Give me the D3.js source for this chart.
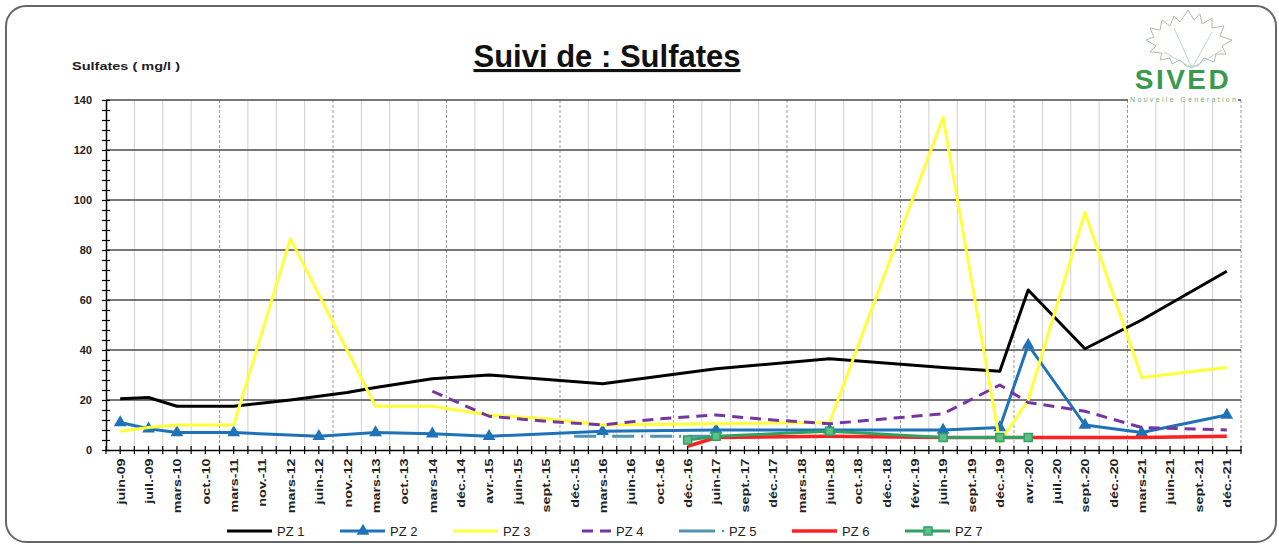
<!DOCTYPE html>
<html>
<head>
<meta charset="utf-8">
<script src="https://cdn.jsdelivr.net/npm/d3@7"></script>
<style>
body{margin:0;background:#fff;}
svg{display:block;font-family:"Liberation Sans",Arial,sans-serif;}
</style>
</head>
<body>
<script>
var categories = [
	'juin-09','juil.-09','mars-10','oct.-10','mars-11','nov.-11','mars-12','juin-12','nov.-12','mars-13',
	'oct.-13','mars-14','déc.-14','avr.-15','juin-15','sept.-15','déc.-15','mars-16','juin-16','oct.-16',
	'déc.-16','juin-17','sept.-17','déc.-17','mars-18','juin-18','oct.-18','déc.-18','févr.-19','juin-19',
	'sept.-19','déc.-19','avr.-20','juil.-20','sept.-20','déc.-20','mars-21','juin-21','sept.-21','déc.-21'
];

var pz1 = [
	20.5, 21, 17.5, 17.5, 17.5, null, 20, null, 23, 25,
	null, 28.5, null, 30, null, null, null, 26.5, null, null,
	null, 32.5, null, null, null, 36.5, null, null, null, 33,
	null, 31.5, 64, null, 40.5, null, 52, null, null, 71.5
];
var pz2 = [
	11, 8.5, 7, null, 7, null, null, 5.5, null, 7,
	null, 6.5, null, 5.5, null, null, null, 7.5, null, null,
	null, 8, null, null, null, 8, null, null, null, 8,
	null, 9, 42, null, 10, null, 7, null, null, 14
];
var pz3 = [
	7.5, 9, 10, null, 10, null, 84.5, null, null, 17.5,
	null, 17.5, null, 14, null, 12.5, null, 10, null, null,
	null, 10.5, null, null, null, 11, null, null, null, 133,
	null, 3, 20, null, 95, null, 29, null, null, 33
];
var pz4 = [
	null, null, null, null, null, null, null, null, null, null,
	null, 23.5, null, 13.5, null, 11.5, null, 10, null, 12.5,
	null, 14, null, 12, null, 10.5, null, 12.5, null, 14.5,
	null, 26, 19, null, 15.5, null, 9, null, null, 8
];
var pz5 = [
	null, null, null, null, null, null, null, null, null, null,
	null, null, null, null, null, null, 5.5, null, null, null,
	null, 5.5, null, null, null, null, null, null, null, null,
	null, null, null, null, null, null, null, null, null, null
];
var pz6 = [
	null, null, null, null, null, null, null, null, null, null,
	null, null, null, null, null, null, null, null, null, null,
	1.5, 5, null, null, null, 5.5, null, null, null, 5,
	null, 5, 5, null, 5, null, 5, null, null, 5.5
];
var pz7 = [
	null, null, null, null, null, null, null, null, null, null,
	null, null, null, null, null, null, null, null, null, null,
	4, 5.5, null, null, null, 7.5, null, null, null, 5,
	null, 5, 5, null, null, null, null, null, null, null
];

var seriesNames = ['PZ 1','PZ 2','PZ 3','PZ 4','PZ 5','PZ 6','PZ 7'];
var yTicks = [0, 20, 40, 60, 80, 100, 120, 140];

var W = 1279, H = 544;
var plotLeft = 106, plotRight = 1241, plotTop = 100, plotBottom = 450;
var FONT = '"Liberation Sans",Arial,sans-serif';

var styles = [
	{color:'#000000', width:3, dash:null, marker:null},
	{color:'#1f72b8', width:3, dash:null, marker:'triangle'},
	{color:'#ffff3a', width:3, dash:null, marker:null},
	{color:'#7535a3', width:3, dash:'11,7', marker:null},
	{color:'#4f94b3', width:3, dash:'22,7,2,7', marker:null},
	{color:'#ff2020', width:3.5, dash:null, marker:null},
	{color:'#2ea163', width:3, dash:null, marker:'square'}
];
var seriesValues = [pz1, pz2, pz3, pz4, pz5, pz6, pz7];

var svg = d3.select('body').append('svg')
	.attr('width', W)
	.attr('height', H);

// frame
svg.append('rect')
	.attr('x', 6).attr('y', 6)
	.attr('width', W - 9).attr('height', H - 8)
	.attr('rx', 20).attr('ry', 20)
	.attr('fill', '#fff')
	.attr('stroke', '#666')
	.attr('stroke-width', 2);

var x = d3.scalePoint()
	.domain(categories)
	.range([plotLeft, plotRight])
	.padding(0.5);
var step = x.step();

var y = d3.scaleLinear()
	.domain([0, 140])
	.range([plotBottom, plotTop]);

// vertical grid at category boundaries
var grid = svg.append('g');
grid.selectAll('line.v')
	.data(d3.range(1, categories.length + 1))
	.enter().append('line')
	.attr('class', 'v')
	.attr('x1', function(i){ return plotLeft + i*step; })
	.attr('x2', function(i){ return plotLeft + i*step; })
	.attr('y1', plotTop).attr('y2', plotBottom)
	.attr('stroke', function(i){ return i % 4 == 0 ? '#999' : '#cfcfcf'; })
	.attr('stroke-dasharray', function(i){ return i % 4 == 0 ? '3,2' : null; })
	.attr('stroke-width', 1);

// horizontal grid
grid.selectAll('line.h')
	.data(yTicks.slice(1))
	.enter().append('line')
	.attr('class', 'h')
	.attr('x1', plotLeft).attr('x2', plotRight)
	.attr('y1', function(d){ return y(d); })
	.attr('y2', function(d){ return y(d); })
	.attr('stroke', '#4a4a4a')
	.attr('stroke-width', 1.6);

// y axis minor ticks
var yMinor = svg.append('g')
	.attr('transform', 'translate(' + plotLeft + ',0)')
	.call(d3.axisLeft(y).tickValues(d3.range(0, 141, 4)).tickSize(4).tickSizeOuter(0).tickFormat(''));
yMinor.select('.domain').attr('stroke', '#000').attr('stroke-width', 1.5);
yMinor.selectAll('.tick line').attr('x1', -4).attr('x2', 4).attr('stroke-width', 1.2);

var yMajor = svg.append('g')
	.attr('transform', 'translate(' + plotLeft + ',0)')
	.call(d3.axisLeft(y).tickValues(yTicks).tickSize(0).tickPadding(14));
yMajor.select('.domain').remove();
yMajor.selectAll('text')
	.attr('font-size', 11)
	.attr('font-weight', 'bold')
	.attr('font-family', FONT)
	.attr('fill', '#222');

// x axis
var xAxis = svg.append('g')
	.attr('transform', 'translate(0,' + plotBottom + ')')
	.call(d3.axisBottom(x).tickSize(0).tickSizeOuter(0));
xAxis.select('.domain').attr('stroke', '#000').attr('stroke-width', 1.5);
xAxis.selectAll('.tick text')
	.attr('transform', 'rotate(-90) scale(1.3,1)')
	.attr('x', -6.5).attr('y', 0).attr('dy', '0.35em')
	.style('text-anchor', 'end')
	.attr('font-size', 11)
	.attr('font-weight', 'bold')
	.attr('font-family', FONT)
	.attr('fill', '#222');

var xTickPos = [plotLeft];
categories.forEach(function(c, i){
	xTickPos.push(x(c));
	xTickPos.push(plotLeft + (i + 1)*step);
});
svg.append('g').selectAll('line')
	.data(xTickPos)
	.enter().append('line')
	.attr('x1', function(d){ return d; })
	.attr('x2', function(d){ return d; })
	.attr('y1', plotBottom - 4).attr('y2', plotBottom + 4)
	.attr('stroke', '#000')
	.attr('stroke-width', 1.2);

// series
var line = d3.line()
	.x(function(d){ return x(d.c); })
	.y(function(d){ return y(d.v); });

var seriesGroup = svg.append('g');
seriesValues.forEach(function(values, s){
	var st = styles[s];
	var pts = [];
	values.forEach(function(v, i){
		if(v != null) pts.push({c: categories[i], v: v});
	});
	var g = seriesGroup.append('g').attr('class', 'series');
	g.append('path')
		.datum(pts)
		.attr('d', line)
		.attr('fill', 'none')
		.attr('stroke', st.color)
		.attr('stroke-width', st.width)
		.attr('stroke-dasharray', st.dash)
		.attr('stroke-linejoin', 'round');

	if(st.marker == 'triangle'){
		g.selectAll('path.m')
			.data(pts)
			.enter().append('path')
			.attr('class', 'm')
			.attr('d', d3.symbol().type(d3.symbolTriangle).size(70))
			.attr('transform', function(d){ return 'translate(' + x(d.c) + ',' + y(d.v) + ')'; })
			.attr('fill', st.color);
	}
	if(st.marker == 'square'){
		g.selectAll('rect.m')
			.data(pts)
			.enter().append('rect')
			.attr('class', 'm')
			.attr('x', function(d){ return x(d.c) - 4; })
			.attr('y', function(d){ return y(d.v) - 4; })
			.attr('width', 8).attr('height', 8)
			.attr('fill', '#5fbf86')
			.attr('stroke', st.color)
			.attr('stroke-width', 1.5);
	}
});

// titles
svg.append('text')
	.attr('x', 607).attr('y', 67)
	.attr('text-anchor', 'middle')
	.attr('font-size', 31)
	.attr('font-weight', 'bold')
	.attr('text-decoration', 'underline')
	.attr('fill', '#111')
	.text('Suivi de : Sulfates');

svg.append('text')
	.attr('x', 72).attr('y', 70)
	.attr('font-size', 11)
	.attr('font-weight', 'bold')
	.attr('textLength', 108)
	.attr('lengthAdjust', 'spacingAndGlyphs')
	.attr('fill', '#222')
	.text('Sulfates  ( mg/l )');

// logo
var logo = svg.append('g').attr('transform', 'translate(1142,6)');
logo.append('path')
	.attr('d', 'M44,60 L38,54 L30,58 L28,52 L18,54 L20,47 L8,46 L14,40 L4,34 L12,31 L8,22 L18,24 L20,14 L28,20 L32,10 L38,16 L46,4 L52,14 L58,8 L60,18 L70,12 L70,22 L82,20 L78,30 L90,34 L80,40 L84,48 L74,48 L72,56 L62,52 L56,60 Z')
	.attr('fill', 'none')
	.attr('stroke', '#a9bfa9')
	.attr('stroke-width', 1);
logo.append('path')
	.attr('d', 'M50,62 L32,22 M50,62 L70,26 M50,62 L22,46 M50,62 L80,44')
	.attr('fill', 'none')
	.attr('stroke', '#c5d3c5')
	.attr('stroke-width', 1);
svg.append('rect')
	.attr('x', 1128).attr('y', 94)
	.attr('width', 110).attr('height', 8)
	.attr('fill', '#fff');
svg.append('text')
	.attr('x', 1183).attr('y', 89)
	.attr('text-anchor', 'middle')
	.attr('font-size', 28)
	.attr('font-weight', 'bold')
	.attr('letter-spacing', 2.5)
	.attr('fill', '#3a9a4b')
	.text('SIVED');
svg.append('text')
	.attr('x', 1130).attr('y', 101.5)
	.attr('font-size', 7)
	.attr('textLength', 106)
	.attr('fill', '#6fae7b')
	.text('Nouvelle Génération');

// legend
var legend = svg.append('g').attr('transform', 'translate(0,531)');
seriesNames.forEach(function(name, s){
	var st = styles[s];
	var tx = 277 + s*113;
	var item = legend.append('g');
	var x0 = tx - 50, x1 = tx - 5;
	if(s == 3){ x0 = tx - 34; }
	if(s == 4){ x1 = tx - 14; }
	item.append('line')
		.attr('x1', x0).attr('x2', x1)
		.attr('y1', 0).attr('y2', 0)
		.attr('stroke', st.color)
		.attr('stroke-width', st.width)
		.attr('stroke-dasharray', s == 3 ? '11,7' : null);
	if(s == 4){
		item.append('circle')
			.attr('cx', tx - 6).attr('cy', 0).attr('r', 1.3)
			.attr('fill', st.color);
	}
	if(st.marker == 'triangle'){
		item.append('path')
			.attr('d', d3.symbol().type(d3.symbolTriangle).size(70))
			.attr('transform', 'translate(' + (tx - 27) + ',0)')
			.attr('fill', st.color);
	}
	if(st.marker == 'square'){
		item.append('rect')
			.attr('x', tx - 31).attr('y', -4)
			.attr('width', 8).attr('height', 8)
			.attr('fill', '#5fbf86')
			.attr('stroke', st.color)
			.attr('stroke-width', 1.5);
	}
	item.append('text')
		.attr('x', tx).attr('y', 0)
		.attr('dy', '0.36em')
		.attr('font-size', 13)
		.attr('fill', '#222')
		.text(name);
});
</script>
</body>
</html>
